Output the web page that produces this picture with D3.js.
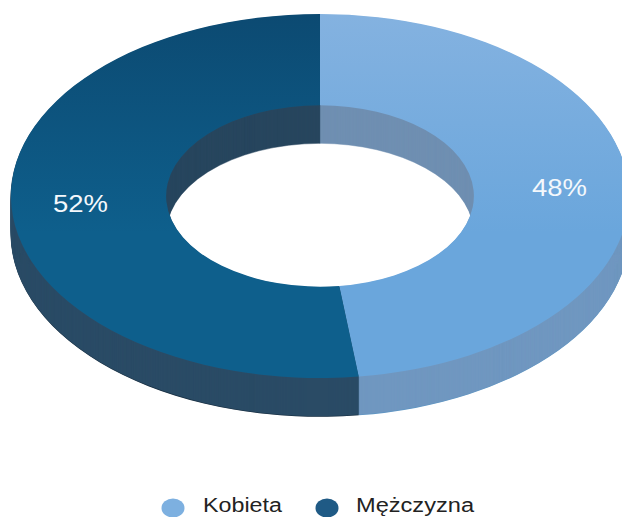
<!DOCTYPE html>
<html><head><meta charset="utf-8">
<script src="https://cdn.jsdelivr.net/npm/d3@7"></script>
<style>html,body{margin:0;padding:0;background:#fff;overflow:hidden}svg{display:block}</style>
</head><body><svg id="c" width="622" height="517"></svg>
<script>
const categories = ["Kobieta", "Mężczyzna"];
const values = [48, 52];
const labels = ["48%", "52%"];
const topStart = ["#84b2e0", "#0c4a72"];
const topEnd = ["#6aa6dc", "#0e5f8c"];
const outerWallColors = ["#7097c0", "#2a4b66"];
const innerWallColors = ["#6f8fb2", "#27465e"];
const edgeColors = ["#5e96c4", "#14283a"];
const legendColors = ["#7db0e0", "#1f5a85"];

const cx = 320, cy = 196, rx = 309, ry = 182, depth = 38, holeRatio = 0.498;
const svg = d3.select("#c");
const pie = d3.pie().sort(null).value(d => d)(values);
const ratio = ry / rx;
const ring = (inner, outer) => d3.arc().innerRadius(inner).outerRadius(outer);
const topArc = ring(rx * holeRatio, rx);
const outerPart = ring(rx * 0.75, rx);
const innerPart = ring(rx * holeRatio, rx * 0.75);

const defs = svg.append("defs");
categories.forEach((c, i) => {
  const lg = defs.append("linearGradient").attr("id", "top" + i)
    .attr("gradientUnits", "userSpaceOnUse")
    .attr("x1", 0).attr("y1", -rx).attr("x2", 0).attr("y2", rx);
  lg.append("stop").attr("offset", 0).attr("stop-color", topStart[i]);
  lg.append("stop").attr("offset", 0.6).attr("stop-color", topEnd[i]);
});

const g = svg.append("g");
const place = dy => `translate(${cx},${cy + dy}) scale(1,${ratio})`;

// Dark rim at the foot of the wall
g.append("g").attr("transform", place(depth + 0.8)).selectAll("path").data(pie).join("path")
  .attr("d", outerPart).attr("fill", (d, i) => edgeColors[i]);
// Extruded walls
for (const dy of d3.range(depth, 0, -1)) {
  const layer = g.append("g").attr("transform", place(dy));
  layer.selectAll(".o").data(pie).join("path").attr("d", outerPart)
    .attr("fill", (d, i) => outerWallColors[i]).attr("stroke", (d, i) => outerWallColors[i]).attr("stroke-width", 0.6);
  layer.selectAll(".i").data(pie).join("path").attr("d", innerPart)
    .attr("fill", (d, i) => innerWallColors[i]).attr("stroke", (d, i) => innerWallColors[i]).attr("stroke-width", 0.6);
}
// Top surface
g.append("g").attr("transform", place(0)).selectAll("path").data(pie).join("path")
  .attr("d", topArc).attr("fill", (d, i) => `url(#top${i})`);

// Value labels
const labelPos = [[532, 196], [53, 212]];
svg.selectAll(".val").data(labels).join("text").attr("class", "val")
  .attr("x", (d, i) => labelPos[i][0]).attr("y", (d, i) => labelPos[i][1])
  .attr("textLength", 55).attr("lengthAdjust", "spacingAndGlyphs")
  .attr("font-family", "Liberation Sans, Arial, sans-serif").attr("font-size", 23)
  .attr("fill", "#f4f8fc").text(d => d);

// Legend
const legendMarkX = [173, 327], legendTextX = [203, 356], legendWidths = [79, 118];
svg.selectAll(".mk").data(categories).join("ellipse").attr("class", "mk")
  .attr("cx", (d, i) => legendMarkX[i]).attr("cy", 508).attr("rx", 11.5).attr("ry", 9.5)
  .attr("fill", (d, i) => legendColors[i]);
svg.selectAll(".lg").data(categories).join("text").attr("class", "lg")
  .attr("x", (d, i) => legendTextX[i]).attr("y", 512)
  .attr("textLength", (d, i) => legendWidths[i]).attr("lengthAdjust", "spacingAndGlyphs")
  .attr("font-family", "Liberation Sans, Arial, sans-serif").attr("font-size", 20)
  .attr("fill", "#222").text(d => d);
</script></body></html>
